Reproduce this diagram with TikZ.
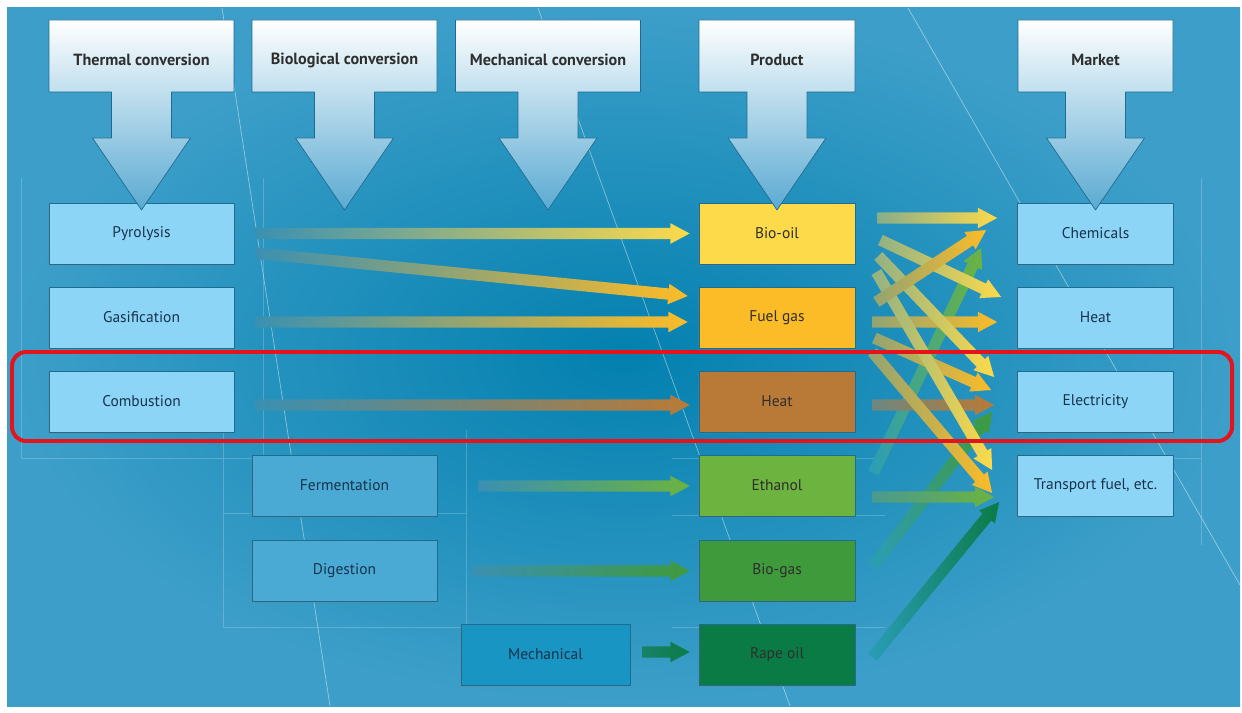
\documentclass[tikz,border=0pt]{standalone}
\usepackage{fontspec}
\setmainfont{PT Sans}
\usetikzlibrary{calc,shadows}
\definecolor{bgin}{HTML}{0380AF}
\definecolor{bgout}{HTML}{3D9FC9}
\definecolor{bgc}{HTML}{3A90B2}
\definecolor{edge}{HTML}{1F6C90}
\definecolor{headblue}{HTML}{5AAAD2}
\definecolor{headtext}{HTML}{2E2E2E}
\definecolor{procc}{HTML}{8DD5F6}
\definecolor{bioc}{HTML}{4AAAD3}
\definecolor{mechc}{HTML}{1895C2}
\definecolor{oilc}{HTML}{FDDA4A}
\definecolor{fuelc}{HTML}{FCBC27}
\definecolor{heatc}{HTML}{B97A37}
\definecolor{etohc}{HTML}{6CB33F}
\definecolor{gasc}{HTML}{3F9A3C}
\definecolor{rapec}{HTML}{0B7B45}
\definecolor{tealc}{HTML}{2A9DB8}
\definecolor{navy}{HTML}{17324D}
\definecolor{markred}{HTML}{E3141B}
% big header arrow: centre x, half width of the box, text, name
\newcommand{\headarrow}[4]{%
  \draw[draw=edge, line width=0.6pt, top color=white, bottom color=headblue]
    (#1-#2,20) -- (#1+#2,20) -- (#1+#2,92) -- (#1+30,92) -- (#1+30,138) -- (#1+49,138)
    -- (#1,210) -- (#1-49,138) -- (#1-30,138) -- (#1-30,92) -- (#1-#2,92) -- cycle;
  \node[font=\fontsize{13.8}{16}\selectfont\bfseries, text=headtext] (#4) at (#1,60) {#3};}

\begin{document}
\begin{tikzpicture}[x=0.03cm, y=-0.03cm, font=\fontsize{13.2}{15}\selectfont, line join=round,
  box/.style={draw=edge, line width=0.6pt, fill=procc, text=navy, minimum width=5.55cm,
    minimum height=1.83cm, inner sep=0pt,
    drop shadow={opacity=0.3, shadow xshift=-1pt, shadow yshift=-1.5pt}},
  prod/.style={box, minimum width=4.68cm, text=headtext},
  flow/.style={to path={let \p1=(\tikztostart), \p2=(\tikztotarget), \p3=($(\p2)-(\p1)$),
    \n1={atan2(\y3,\x3)} in
    ($(\p1)+(\n1+90:\fh)$) -- ($(\p2)+(\n1+180:\fk)+(\n1+90:\fh)$)
    -- ($(\p2)+(\n1+180:\fk)+(\n1+90:\fH)$) -- (\p2)
    -- ($(\p2)+(\n1+180:\fk)+(\n1-90:\fH)$) -- ($(\p2)+(\n1+180:\fk)+(\n1-90:\fh)$)
    -- ($(\p1)+(\n1-90:\fh)$) -- cycle}}]
  \def\fh{0.17cm} \def\fH{0.31cm} \def\fk{0.58cm} % arrow shaft, head, head length
  \useasboundingbox (0,0) rectangle (1242,713);
  \fill[white] (0,0) rectangle (1242,713);
  \shade[inner color=bgin, outer color=bgout] (7,8) rectangle (1240,706);

  % thin lines in the back
  \begin{scope}[white, line width=0.6pt]
    \draw[opacity=0.45] (222,8) -- (330,706) (538,8) -- (790,706) (908,8) -- (1240,585);
    \draw[opacity=0.2] (21,178) -- (21,458) -- (263,458) (263,178) -- (263,458)
      (223,433) -- (223,627) -- (466,627) -- (466,430) (223,513) -- (466,513)
      (672,458) -- (885,458) (672,515) -- (885,515) (672,627) -- (885,627)
      (1201,178) -- (1201,545) (1165,458) -- (1201,458);
  \end{scope}

  % conversion
  \node[box] (pyro) at (141.5,233.5) {Pyrolysis};
  \node[box] (gasi) at (141.5,317.5) {Gasification};
  \node[box] (comb) at (141.5,401.5) {Combustion};
  \node[box, fill=bioc] (ferm) at (344.5,485.5) {Fermentation};
  \node[box, fill=bioc] (dige) at (344.5,570.5) {Digestion};
  \node[box, fill=mechc, minimum width=5.07cm] (mech) at (545.5,654.5) {Mechanical};
  % product
  \node[prod, fill=oilc] (oil) at (777,233.5) {Bio-oil};
  \node[prod, fill=fuelc] (fuel) at (777,317.5) {Fuel gas};
  \node[prod, fill=heatc] (heat) at (777,401.5) {Heat};
  \node[prod, fill=etohc] (etoh) at (777,485.5) {Ethanol};
  \node[prod, fill=gasc] (biogas) at (777,570.5) {Bio-gas};
  \node[prod, fill=rapec] (rape) at (777,654.5) {Rape oil};
  % market
  \node[prod, text=navy] (chem) at (1095.5,233.5) {Chemicals};
  \node[prod, text=navy] (mheat) at (1095.5,317.5) {Heat};
  \node[prod, text=navy] (elec) at (1095.5,401.5) {Electricity};
  \node[prod, text=navy] (trans) at (1095.5,485.5) {Transport fuel, etc.};

  \headarrow{141.5}{92.5}{Thermal conversion}{thc}
  \headarrow{344.5}{92.5}{Biological conversion}{bic}
  \headarrow{548}{92.5}{Mechanical conversion}{mec}
  \headarrow{777}{78}{Product}{pro}
  \headarrow{1095.5}{77.5}{Market}{mar}

  % conversion to product
  \path[flow, left color=bgc, middle color=oilc!85!bgc, right color=oilc]
    ($(pyro.east)+(21,0)$) to ($(oil.west)+(-9,0)$);
  \path[flow, left color=bgc, middle color=fuelc!85!bgc, right color=fuelc]
    ($(pyro.east)+(21,19.5)$) to ($(fuel.west)+(-11,-21.5)$);
  \path[flow, left color=bgc, middle color=fuelc!85!bgc, right color=fuelc]
    ($(gasi.east)+(21,4.5)$) to ($(fuel.west)+(-11,4.5)$);
  \path[flow, left color=bgc, middle color=heatc!85!bgc, right color=heatc]
    ($(comb.east)+(21,3.5)$) to ($(heat.west)+(-9,3.5)$);
  \path[flow, left color=bgc, middle color=etohc!85!bgc, right color=etohc]
    ($(ferm.east)+(41,0.5)$) to ($(etoh.west)+(-9,0.5)$);
  \path[flow, left color=bgc, middle color=gasc!85!bgc, right color=gasc]
    ($(dige.east)+(35,0.5)$) to ($(biogas.west)+(-9,0.5)$);
  \path[flow, left color=rapec!70!bgc, right color=rapec]
    ($(mech.east)+(12,-2.5)$) to ($(rape.west)+(-9,-2.5)$);

  % product to market
  \path[flow, left color=tealc, right color=etohc]
    ($(etoh.east)+(18,-12.5)$) to ($(chem.west)+(-36,14.5)$);
  \path[flow, left color=tealc, right color=gasc]
    ($(biogas.east)+(17,-3.5)$) to ($(elec.west)+(-25,10.5)$);
  \path[flow, left color=tealc, right color=rapec]
    ($(rape.east)+(17,2.5)$) to ($(trans.west)+(-18,16.5)$);
  \path[flow, left color=etohc!30!bgc, right color=etohc]
    ($(etoh.east)+(17,11.5)$) to ($(trans.west)+(-23,11.5)$);
  \path[flow, left color=heatc!40!bgc, right color=heatc]
    ($(heat.east)+(17,3.5)$) to ($(elec.west)+(-23,3.5)$);
  \path[flow, left color=fuelc!45!bgc, right color=fuelc]
    ($(fuel.east)+(17,34.5)$) to ($(trans.west)+(-25,7.5)$);
  \path[flow, left color=fuelc!45!bgc, right color=fuelc]
    ($(fuel.east)+(19,20.5)$) to ($(elec.west)+(-26,-11.5)$);
  \path[flow, left color=fuelc!45!bgc, right color=fuelc]
    ($(fuel.east)+(17,4.5)$) to ($(mheat.west)+(-20,4.5)$);
  \path[flow, left color=oilc!45!bgc, right color=oilc]
    ($(oil.east)+(21,38.5)$) to ($(trans.west)+(-25,-15.5)$);
  \path[flow, left color=oilc!45!bgc, right color=oilc]
    ($(oil.east)+(23,22.5)$) to ($(elec.west)+(-23,-24.5)$);
  \path[flow, left color=oilc!45!bgc, right color=oilc]
    ($(oil.east)+(25,6.5)$) to ($(mheat.west)+(-16,-20.5)$);
  \path[flow, left color=fuelc!45!bgc, right color=fuelc]
    ($(fuel.east)+(21,-15.5)$) to ($(chem.west)+(-31,-3.5)$);
  \path[flow, left color=oilc!40!bgc, right color=oilc]
    ($(oil.east)+(22,-15.5)$) to ($(chem.west)+(-20,-15.5)$);

  % highlight
  \draw[markred, line width=3.4pt, rounded corners=12pt] (12,352) rectangle (1232,441);
\end{tikzpicture}
\end{document}
